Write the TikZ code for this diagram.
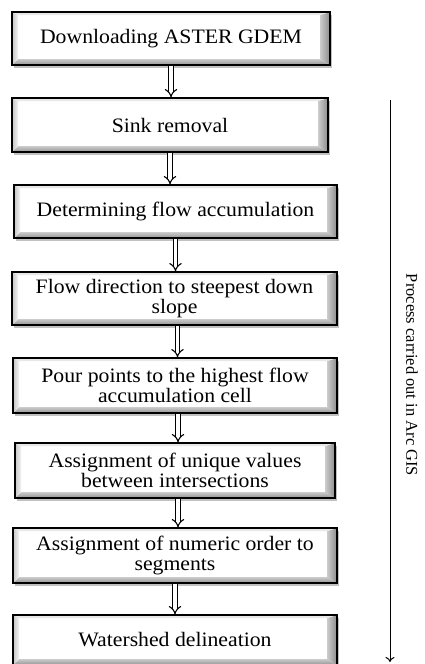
\documentclass[tikz,border=0pt]{standalone}
\usepackage{fontspec}
\setmainfont{Liberation Serif}
\newfontfamily\boxfont{Liberation Serif}[FakeStretch=1.06]
\usetikzlibrary{arrows.meta,shadows}
\begin{document}
\begin{tikzpicture}[x=1pt,y=-1pt,
  bevelbox/.style={draw=black, line width=1.1pt, fill=white, inner sep=0pt,
    align=center, font=\boxfont\fontsize{20.5}{20}\selectfont,
    drop shadow={shadow xshift=1.5pt, shadow yshift=-3pt, fill=gray!60, opacity=0.8},
    path picture={
      \coordinate (sw) at (path picture bounding box.south west);
      \coordinate (ne) at (path picture bounding box.north east);
      \coordinate (nw) at (path picture bounding box.north west);
      \coordinate (se) at (path picture bounding box.south east);
      \shade[left color=gray!40, right color=gray!90]
        (ne) -- (se) -- ([xshift=-10pt,yshift=6pt]se) -- ([xshift=-10pt,yshift=-3pt]ne) -- cycle;
      \shade[top color=gray!40, bottom color=gray!85]
        (se) -- (sw) -- ([xshift=6pt,yshift=6pt]sw) -- ([xshift=-10pt,yshift=6pt]se) -- cycle;
      \shade[left color=gray!45, right color=gray!10]
        (sw) -- (nw) -- ([xshift=6pt,yshift=-3pt]nw) -- ([xshift=6pt,yshift=6pt]sw) -- cycle;
      \fill[gray!18]
        (nw) -- (ne) -- ([xshift=-10pt,yshift=-3pt]ne) -- ([xshift=6pt,yshift=-3pt]nw) -- cycle;
    }},
  flowarrow/.style={double, double distance=3.2pt, line width=1.1pt,
    -{Implies[length=5pt]}},
  sidetext/.style={font=\fontsize{16.5}{18}\selectfont, rotate=-90}
]
\useasboundingbox (0,0) rectangle (424,664);

\node[bevelbox, minimum width=318pt, minimum height=53pt] (b1) at (171,38.5) {Downloading ASTER GDEM};
\node[bevelbox, minimum width=316pt, minimum height=54pt] (b2) at (170,125) {Sink removal};
\node[bevelbox, minimum width=323pt, minimum height=53pt] (b3) at (175.5,211.5) {Determining flow accumulation};
\node[bevelbox, minimum width=325pt, minimum height=53pt] (b4) at (174.5,298.5) {Flow direction to steepest down\\slope};
\node[bevelbox, minimum width=324pt, minimum height=55pt] (b5) at (175,385.5) {Pour points to the highest flow\\accumulation cell};
\node[bevelbox, minimum width=320pt, minimum height=55pt] (b6) at (175,470.5) {Assignment of unique values\\between intersections};
\node[bevelbox, minimum width=324pt, minimum height=55pt] (b7) at (175,555.5) {Assignment of numeric order to\\segments};
\node[bevelbox, minimum width=324pt, minimum height=50pt] (b8) at (175,640) {Watershed delineation};

\draw[flowarrow] (b1.south) -- (b1.south |- b2.north);
\draw[flowarrow] (b2.south) -- (b2.south |- b3.north);
\draw[flowarrow] (b3.south) -- (b3.south |- b4.north);
\draw[flowarrow] ([xshift=3pt]b4.south) -- ([xshift=3pt]b4.south |- b5.north);
\draw[flowarrow] ([xshift=3pt]b5.south) -- ([xshift=3pt]b5.south |- b6.north);
\draw[flowarrow] ([xshift=3pt]b6.south) -- ([xshift=3pt]b6.south |- b7.north);
\draw[flowarrow] (b7.south) -- (b7.south |- b8.north);

\coordinate (ptop) at (390,100);
\coordinate (pbot) at (390,662);
\draw[line width=1pt, -{To[length=5pt,width=9pt]}] (ptop) -- (pbot);
\node[sidetext] (ptext) at (412,375) {Process carried out in Arc GIS};
\end{tikzpicture}
\end{document}
